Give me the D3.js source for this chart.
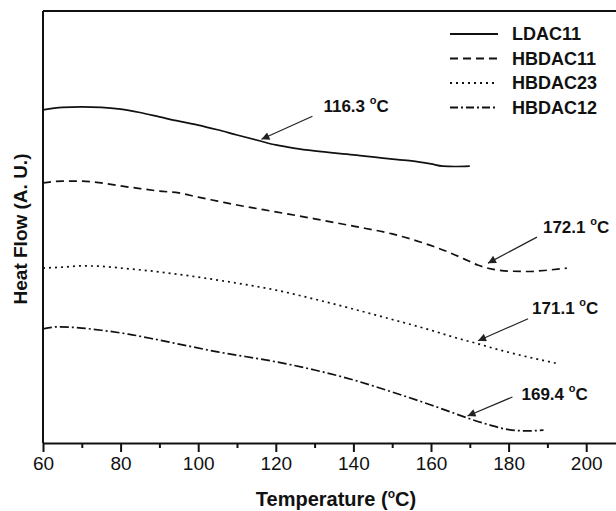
<!DOCTYPE html>
<html>
<head>
<meta charset="utf-8">
<script src="https://cdn.jsdelivr.net/npm/d3@7"></script>
<style>
  body { margin: 0; background: #fff; }
  svg { display: block; font-family: Arial, "Liberation Sans", sans-serif; }
</style>
</head>
<body>
<svg id="chart"></svg>
<script>
// DSC traces (temperature in C, heat flow in arbitrary units)
const seriesNames = ["LDAC11", "HBDAC11", "HBDAC23", "HBDAC12"]

const ldac11T = [60, 65, 70, 75, 80, 85, 90, 95, 100, 105, 110, 116, 120, 125, 130, 140, 150, 155, 160, 163, 166, 170]
const ldac11V = [7.71, 7.77, 7.78, 7.77, 7.73, 7.65, 7.55, 7.45, 7.36, 7.25, 7.13, 6.99, 6.90, 6.82, 6.76, 6.67, 6.57, 6.53, 6.46, 6.41, 6.40, 6.41]

const hbdac11T = [60, 65, 70, 75, 80, 85, 90, 95, 100, 105, 110, 120, 130, 140, 150, 157, 165, 170, 172, 175, 180, 185, 190, 195]
const hbdac11V = [6.02, 6.06, 6.06, 6.02, 5.95, 5.89, 5.83, 5.79, 5.69, 5.60, 5.51, 5.35, 5.19, 5.02, 4.84, 4.66, 4.40, 4.20, 4.12, 4.04, 3.98, 3.97, 4.00, 4.05]

const hbdac23T = [60, 65, 70, 75, 80, 90, 100, 110, 120, 130, 140, 150, 160, 167, 172, 175, 180, 185, 190, 193]
const hbdac23V = [4.05, 4.07, 4.10, 4.09, 4.05, 3.96, 3.84, 3.70, 3.54, 3.33, 3.10, 2.86, 2.61, 2.42, 2.30, 2.22, 2.10, 1.99, 1.89, 1.83]

const hbdac12T = [60, 64, 70, 75, 82, 89, 95, 105, 120, 130, 140, 150, 160, 165, 170, 175, 180, 185, 189]
const hbdac12V = [2.64, 2.69, 2.66, 2.61, 2.52, 2.40, 2.29, 2.11, 1.88, 1.69, 1.46, 1.18, 0.88, 0.72, 0.56, 0.42, 0.31, 0.28, 0.30]

// transition temperatures marked with arrows
const markTemps = [116.3, 172.1, 171.1, 169.4]
const markLabels = ["116.3", "172.1", "171.1", "169.4"]

const xTicks = [60, 80, 100, 120, 140, 160, 180, 200]

const width = 616, height = 511
const margin = {top: 11, left: 43, bottom: 68}
const plotRight = 625  // frame runs past the right edge of the picture

const temps = [ldac11T, hbdac11T, hbdac23T, hbdac12T]
const vals = [ldac11V, hbdac11V, hbdac23V, hbdac12V]
const series = seriesNames.map((name, i) => ({
  name,
  values: temps[i].map((t, j) => ({t, v: vals[i][j]}))
}))

const dashes = [null, "8,5", "2,4", "9,3,2,3"]
const legendDashes = [null, "8,5", "2,4", "8,3,2,3"]

const x = d3.scaleLinear().domain([60, 210]).range([margin.left, plotRight])
const y = d3.scaleLinear().domain([0, 10]).range([height - margin.bottom, margin.top])

const svg = d3.select("#chart")
  .attr("width", width)
  .attr("height", height)

// frame: top and left lines
svg.append("line")
  .attr("x1", margin.left).attr("x2", plotRight)
  .attr("y1", margin.top).attr("y2", margin.top)
  .attr("stroke", "#111").attr("stroke-width", 2)
svg.append("line")
  .attr("x1", margin.left).attr("x2", margin.left)
  .attr("y1", margin.top).attr("y2", height - margin.bottom)
  .attr("stroke", "#111").attr("stroke-width", 2)

// x axis with minor ticks
const xAxis = svg.append("g")
  .attr("transform", `translate(0,${height - margin.bottom})`)
xAxis.append("g")
  .call(d3.axisBottom(x).tickValues(d3.range(70, 210, 20)).tickSize(5).tickFormat(""))
  .call(g => g.select(".domain").remove())
  .call(g => g.selectAll("line").attr("stroke", "#111").attr("stroke-width", 2))
xAxis.append("g")
  .call(d3.axisBottom(x).tickValues(xTicks).tickSize(9).tickSizeOuter(0).tickPadding(5))
  .call(g => g.select(".domain").attr("stroke", "#111").attr("stroke-width", 2))
  .call(g => g.selectAll("line").attr("stroke", "#111").attr("stroke-width", 2))
  .call(g => g.selectAll("text")
      .attr("font-family", "Arial, 'Liberation Sans', sans-serif")
      .attr("font-size", 19).attr("fill", "#111"))

// axis titles
const xTitle = svg.append("text")
  .attr("x", 336).attr("y", 506)
  .attr("text-anchor", "middle")
  .attr("font-size", 20).attr("font-weight", "bold").attr("fill", "#111")
xTitle.append("tspan").text("Temperature (")
xTitle.append("tspan").attr("font-size", 12).attr("dy", -8).text("o")
xTitle.append("tspan").attr("dy", 8).text("C)")

svg.append("text")
  .attr("transform", `translate(27,${(margin.top + height - margin.bottom) / 2 + 2}) rotate(-90)`)
  .attr("text-anchor", "middle")
  .attr("font-size", 19).attr("font-weight", "bold").attr("fill", "#111")
  .text("Heat Flow (A. U.)")

// curves
const line = d3.line()
  .x(d => x(d.t))
  .y(d => y(d.v))
  .curve(d3.curveMonotoneX)

svg.append("g")
  .attr("fill", "none")
  .attr("stroke", "#111")
  .attr("stroke-width", 1.7)
  .selectAll("path")
  .data(series)
  .join("path")
    .attr("stroke-dasharray", (d, i) => dashes[i])
    .attr("d", d => line(d.values))

// arrows with temperature labels
svg.append("defs").append("marker")
  .attr("id", "head")
  .attr("viewBox", "0 0 10 10")
  .attr("refX", 10).attr("refY", 5)
  .attr("markerWidth", 11).attr("markerHeight", 8)
  .attr("markerUnits", "userSpaceOnUse")
  .attr("orient", "auto")
  .append("path").attr("d", "M0,0L10,5L0,10z").attr("fill", "#222")

const offsets = [
  {tip: [0, -2], tail: [51, -23], text: [11, -4]},
  {tip: [10, -2], tail: [49, -26], text: [6, -4]},
  {tip: [4, -2], tail: [50, -22], text: [4, -5]},
  {tip: [0, -2], tail: [45, -19], text: [9, 3]}
]

markTemps.forEach((t, i) => {
  const vt = d3.scaleLinear().domain(temps[i]).range(vals[i])
  const o = offsets[i]
  const tx = x(t) + o.tip[0], ty = y(vt(t)) + o.tip[1]
  const sx = tx + o.tail[0], sy = ty + o.tail[1]
  svg.append("line")
    .attr("x1", sx).attr("y1", sy).attr("x2", tx).attr("y2", ty)
    .attr("stroke", "#222").attr("stroke-width", 1.2)
    .attr("marker-end", "url(#head)")
  const label = svg.append("text")
    .attr("x", sx + o.text[0]).attr("y", sy + o.text[1])
    .attr("font-size", 17).attr("font-weight", "bold").attr("fill", "#111")
  label.append("tspan").text(markLabels[i] + " ")
  label.append("tspan").attr("font-size", 11).attr("dy", -8).text("o")
  label.append("tspan").attr("dy", 8).text("C")
})

// legend
const legend = svg.append("g")
  .selectAll("g")
  .data(seriesNames)
  .join("g")
    .attr("transform", (d, i) => `translate(450,${34 + i * 24.5})`)
legend.append("line")
  .attr("x1", 0).attr("x2", 48)
  .attr("stroke", "#111").attr("stroke-width", 1.8)
  .attr("stroke-dasharray", (d, i) => legendDashes[i])
legend.append("text")
  .attr("x", 62).attr("dy", "0.35em")
  .attr("font-size", 18).attr("font-weight", "bold").attr("fill", "#111")
  .text(d => d)
</script>
</body>
</html>
